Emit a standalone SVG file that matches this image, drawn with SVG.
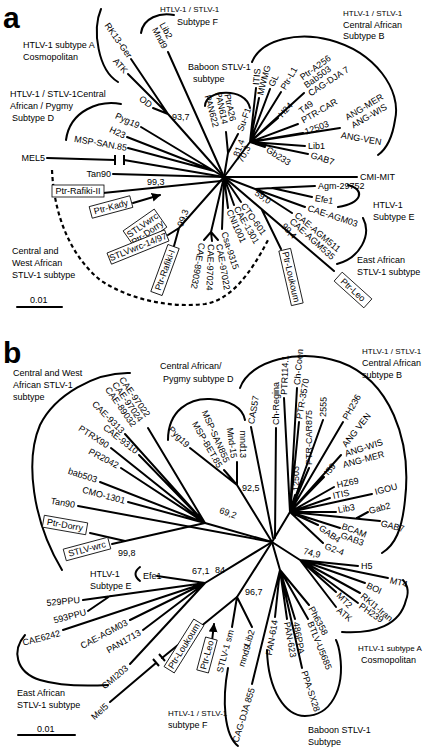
<svg xmlns="http://www.w3.org/2000/svg" width="431" height="749" viewBox="0 0 431 749">
<style>
.l{font-family:"Liberation Sans",Arial,sans-serif;font-size:9px;fill:#000;dominant-baseline:central}
.e{text-anchor:end}
.m{text-anchor:middle}
.g{font-family:"Liberation Sans",Arial,sans-serif;font-size:9px;fill:#000}
.s{font-size:8px}
.p{font-family:"Liberation Sans",Arial,sans-serif;font-size:30px;font-weight:bold;fill:#000}
.br{stroke:#000;stroke-width:2;fill:none;stroke-linecap:round}
.arc{stroke:#000;stroke-width:2;fill:none;stroke-linecap:round}
.dash{stroke:#000;stroke-width:2.2;fill:none;stroke-dasharray:4 3}
.box{fill:#fff;stroke:#000;stroke-width:0.8}
.tk{stroke:#000;stroke-width:2;fill:none}
</style>
<defs>
<marker id="ah" viewBox="0 0 10 10" refX="9" refY="5" markerWidth="9" markerHeight="9" markerUnits="userSpaceOnUse" orient="auto"><path d="M0,0 L10,5 L0,10 z" fill="#000"/></marker>
</defs>
<rect width="431" height="749" fill="#fff"/>

<!-- ========== PANEL A ========== -->
<text class="p" x="3" y="28">a</text>
<g id="connectors-a">
<path class="br" d="M224,177 L168,114 M168,114 L131,59 M168,114 L128,74 M168,114 L153,108"/>
<path class="br" d="M168,52 L224,177"/>
<path class="br" d="M214,171 L224,177 M141,127 L214,171 M127,137 L214,171 M128,148 L214,171"/>
<path class="br" d="M47,158 L115,160 M124,160 L224,177"/>
<path class="tk" d="M115,155 L115,165 M124,155 L124,165"/>
<path class="br" d="M113,174 L224,177"/>
<path class="br" d="M103,193 L221,181"/>
<path class="br" d="M133,203 L160,195" marker-end="url(#ah)"/>
<path class="br" d="M224,177 L179,228 L168,235 M179,228 L174,246"/>
<path class="br" d="M224,177 L211,232 L204,240 M211,232 L212,241 M211,232 L218,240"/>
<path class="br" d="M224,177 L222,229 M224,177 L228,208 M224,177 L234,205 M224,177 L241,202"/>
<path class="br" d="M224,177 L255,189 L272,188 L315,186 M272,188 L312,197 M255,189 L305,207 M255,189 L292,213"/>
<path class="br" d="M224,177 L334,271 M262,210 L281,249"/>
<path class="br" d="M224,177 L228,153 L226,132 M228,153 L238,134"/>
<path class="br" d="M224,177 L250,142 M250,142 L256,88 M250,142 L259,98 M250,142 L270,89 M250,142 L281,92 M250,142 L304,93 M250,142 L278,118 M250,142 L298,124 M250,142 L303,133 M250,142 L340,128 M250,142 L305,146 M250,142 L308,154 M250,142 L265,147"/>
<path class="br" d="M224,177 L357,177"/>
<path class="arc" d="M101,9 C92,30 98,70 118,82"/>
<path class="arc" d="M141,33 C143,18 160,12 174,15"/>
<path class="arc" d="M66,140 C70,110 100,100 121,104"/>
<path class="arc" d="M205,106 C205,90 245,86 250,108"/>
<path class="arc" d="M252,62 C262,38 300,32 330,40 C375,52 402,90 395,120 C392,140 385,150 378,155"/>
<path class="arc" d="M348,185 C366,190 362,203 338,207"/>
<path class="arc" d="M363,218 C372,235 360,258 337,264"/>
<path class="dash" d="M52,170 C54,215 70,255 100,280 C130,300 170,308 205,304 C230,300 250,275 268,240"/>
<path class="br" d="M17,307 L62,307"/>
</g>

<g id="a-groups">
<text class="g" x="23" y="48">HTLV-1 subtype A</text>
<text class="g" x="23" y="60">Cosmopolitan</text>
<text class="g" x="10" y="97">HTLV-1 / STLV-1Central</text>
<text class="g" x="10" y="109">African / Pygmy</text>
<text class="g" x="12" y="121">Subtype D</text>
<text class="g s" x="160" y="12">HTLV-1 / STLV-1</text>
<text class="g" x="177" y="25">Subtype F</text>
<text class="g" x="188" y="70">Baboon STLV-1</text>
<text class="g" x="193" y="82">subtype</text>
<text class="g s" x="343" y="16">HTLV-1 / STLV-1</text>
<text class="g" x="343" y="28">Central African</text>
<text class="g" x="343" y="39">Subtype B</text>
<text class="g" x="373" y="208">HTLV-1</text>
<text class="g" x="373" y="220">Subtype E</text>
<text class="g" x="357" y="263">East African</text>
<text class="g" x="357" y="275">STLV-1 subtype</text>
<text class="g" x="12" y="254">Central and</text>
<text class="g" x="12" y="266">West African</text>
<text class="g" x="12" y="278">STLV-1 subtype</text>
<text class="g" x="30" y="303">0.01</text>
</g>

<g id="a-cladeA">
<text class="l e" transform="translate(130,57) rotate(55)">RK13-Ger</text>
<text class="l e" transform="translate(126,72) rotate(48)">ATK</text>
<text class="l e" transform="translate(151,106) rotate(38)">OD</text>
<text class="g" x="172" y="120">93,7</text>
</g>
<g id="a-cladeF">
<text class="l e" transform="translate(170,38) rotate(62)">Lib2</text>
<text class="l e" transform="translate(165,48) rotate(62)">Mnd9</text>
</g>
<g id="a-cladeD">
<text class="l e" transform="translate(139,126) rotate(25)">Pyg19</text>
<text class="l e" transform="translate(125,136) rotate(25)">H23</text>
<text class="l e" transform="translate(127,148) rotate(10)">MSP-SAN.85</text>
<text class="l e" transform="translate(45,158)">MEL5</text>
</g>
<g id="a-west">
<text class="l e" transform="translate(111,174)">Tan90</text>
<text class="g" x="147" y="185">99,3</text>
<g transform="translate(78,191)"><rect class="box" x="-26" y="-6" width="52" height="12"/><text class="l m">Ptr-Rafiki-II</text></g>
<g transform="translate(111,207) rotate(-15)"><rect class="box" x="-21" y="-6" width="42" height="12"/><text class="l m">Ptr-Kady</text></g>
<g transform="translate(145,229) rotate(-35)"><rect class="box" x="-19" y="-11" width="38" height="22"/><text class="l m" y="-4.5">STLVwrc</text><text class="l m" y="4.5">Ptr-Dorry</text></g>
<g transform="translate(138,247) rotate(-22)"><rect class="box" x="-31" y="-6" width="62" height="12"/><text class="l m">STLVwrc-14/97</text></g>
<g transform="translate(165,270) rotate(-70)"><rect class="box" x="-25" y="-6" width="50" height="12"/><text class="l m">Ptr-Rafiki-I</text></g>
<text class="l m" transform="translate(183,218) rotate(-70)">99,3</text>
<text class="l" transform="translate(202,243) rotate(100)">CAE-89032</text>
<text class="l" transform="translate(211,244) rotate(92)">CAE-97024</text>
<text class="l" transform="translate(219,244) rotate(80)">CAE-97022</text>
<text class="l" transform="translate(224,232) rotate(72)">Csa-9315</text>
<text class="l" transform="translate(229,210) rotate(66)">CNI1001</text>
<text class="l" transform="translate(236,207) rotate(60)">CAE-1301</text>
<text class="l" transform="translate(243,204) rotate(55)">CTO-601</text>
</g>
<g id="a-cladeE">
<text class="l m" transform="translate(263,197) rotate(35)">59,0</text>
<text class="l" transform="translate(318,186)">Agm-29752</text>
<text class="l" transform="translate(315,198) rotate(10)">Efe1</text>
<text class="l" transform="translate(308,208) rotate(18)">CAE-AGM03</text>
<text class="l" transform="translate(296,214) rotate(40)">CAE-AGM511</text>
<text class="l" transform="translate(291,220) rotate(42)">CAE-AGM535</text>
<text class="l m" transform="translate(289,231) rotate(48)">99,4</text>
<g transform="translate(291,277) rotate(77)"><rect class="box" x="-28" y="-6" width="56" height="12"/><text class="l m">Ptr-Loukoum</text></g>
<g transform="translate(353,290) rotate(42)"><rect class="box" x="-20" y="-6" width="40" height="12"/><text class="l m">Ptr-Leo</text></g>
</g>
<g id="a-baboon">
<text class="l e" transform="translate(233,121) rotate(78)">PtrA26</text>
<text class="l e" transform="translate(225,124) rotate(78)">PAN614</text>
<text class="l e" transform="translate(216,127) rotate(75)">PAN622</text>
<text class="l" transform="translate(240,131) rotate(-70)">Su-F1</text>
<text class="l m" transform="translate(239,148) rotate(-70)">81,4</text>
</g>
<g id="a-cladeB">
<text class="l m" transform="translate(244,154) rotate(-62)">70,3</text>
<text class="l" transform="translate(256,85) rotate(-85)">ITIS</text>
<text class="l" transform="translate(260,95) rotate(-75)">MWMG</text>
<text class="l" transform="translate(271,86) rotate(-65)">GL</text>
<text class="l" transform="translate(283,89) rotate(-60)">Ptr-L1</text>
<text class="l" transform="translate(301,78) rotate(-36)">Ptr-A256</text>
<text class="l" transform="translate(305,86) rotate(-36)">Bab503</text>
<text class="l" transform="translate(309,94) rotate(-33)">CAG-DJA 7</text>
<text class="l" transform="translate(280,116) rotate(-48)">H24</text>
<text class="l" transform="translate(300,112) rotate(-38)">T49</text>
<text class="l" transform="translate(302,121) rotate(-30)">PTR-CAR</text>
<text class="l" transform="translate(305,132) rotate(-20)">12503</text>
<text class="l" transform="translate(346,118) rotate(-31)">ANG-MER</text>
<text class="l" transform="translate(352,126) rotate(-30)">ANG-WIS</text>
<text class="l" transform="translate(341,135) rotate(10)">ANG-VEN</text>
<text class="l" transform="translate(308,146)">Lib1</text>
<text class="l" transform="translate(311,155) rotate(18)">GAB7</text>
<text class="l" transform="translate(267,149) rotate(32)">Gb233</text>
</g>
<g id="a-cmi">
<text class="l" transform="translate(360,177)">CMI-MIT</text>
</g>

<!-- ========== PANEL B ========== -->
<text class="p" x="3" y="363">b</text>
<g id="connectors-b">
<path class="br" d="M205,523 L272,542"/>
<path class="br" d="M148,428 L205,523 M125,434 L205,523 M139,455 L205,523 M111,448 L205,523 M121,468 L205,523 M100,482 L205,523 M128,502 L205,523"/>
<path class="br" d="M78,506 L272,542"/>
<path class="br" d="M112,544 L205,523 M90,533 L125,541"/>
<path class="br" d="M237,485 L272,542 M190,448 L237,485 M224,470 L237,485 M237,462 L237,485"/>
<path class="br" d="M251,427 L273,538"/>
<path class="br" d="M290,512 L272,542 M276,428 L275,538"/>
<path class="br" d="M284,398 L290,512 M297,388 L290,512 M299,422 L290,512 M323,420 L290,512 M309,468 L290,512 M295,495 L290,512 M343,422 L290,512 M341,455 L290,512 M324,477 L290,512 M334,487 L290,512 M330,498 L290,512 M372,494 L290,512 M336,512 L290,512 M380,521 L290,512 M357,518 L368,512 M340,528 L290,512 M318,525 L290,512 M323,543 L290,512"/>
<path class="br" d="M300,560 L272,542 M300,560 L358,566 M300,560 L388,578 M300,560 L365,583 M300,560 L360,593 M300,560 L358,603 M300,560 L336,592 M300,560 L336,607"/>
<path class="br" d="M280,570 L272,542 M280,570 L275,617 M280,570 L287,619 M280,570 L295,619 M280,570 L308,619 M280,570 L309,605 M280,570 L302,668 M252,684 L280,570"/>
<path class="br" d="M237,597 L272,542 M232,627 L237,597 M252,627 L237,597"/>
<path class="br" d="M110,702 L156,663 M162,658 L237,597"/>
<path class="tk" d="M153,659 L159,666 M159,654 L165,661"/>
<path class="br" d="M205,583 L272,542 M157,576 L205,583 M83,600 L205,583 M88,611 L110,596 M63,630 L205,583 M130,620 L205,583 M143,630 L205,583 M130,664 L205,583"/>
<path class="br" d="M212,641 L214,624" marker-end="url(#ah)"/>
<path class="arc" d="M130,373 C95,372 55,395 40,425 C25,460 32,520 62,570"/>
<path class="arc" d="M168,440 C168,410 190,398 210,399 C230,400 243,408 245,420"/>
<path class="arc" d="M240,388 C250,360 300,348 340,362 C390,380 412,440 405,500 C402,530 395,545 382,553"/>
<path class="arc" d="M342,632 C375,634 400,625 406,600 C410,590 406,583 403,580"/>
<path class="arc" d="M267,650 C268,690 285,716 305,716 C330,716 345,690 340,655 C339,648 338,644 336,640"/>
<path class="arc" d="M228,668 C222,700 224,735 238,746"/>
<path class="arc" d="M25,635 C12,650 15,672 40,680 C60,686 90,686 108,685"/>
<path class="arc" d="M140,567 Q131,574 140,581"/>
<path class="br" d="M18,735 L75,735"/>
</g>

<g id="b-groups">
<text class="g" x="13" y="376">Central and West</text>
<text class="g" x="13" y="388">African STLV-1</text>
<text class="g" x="13" y="400">subtype</text>
<text class="g" x="160" y="369">Central African/</text>
<text class="g" x="163" y="382">Pygmy subtype D</text>
<text class="g s" x="362" y="354">HTLV-1 / STLV-1</text>
<text class="g" x="362" y="366">Central African</text>
<text class="g" x="362" y="378">subtype B</text>
<text class="g" x="90" y="577">HTLV-1</text>
<text class="g" x="90" y="589">Subtype E</text>
<text class="g" x="17" y="696">East African</text>
<text class="g" x="17" y="708">STLV-1 subtype</text>
<text class="g s" x="168" y="716">HTLV-1 / STLV-1</text>
<text class="g" x="168" y="728">subtype F</text>
<text class="g" x="308" y="733">Baboon STLV-1</text>
<text class="g" x="308" y="745">Subtype</text>
<text class="g s" x="358" y="651">HTLV-1 subtype A</text>
<text class="g" x="361" y="663">Cosmopolitan</text>
<text class="g" x="37" y="732">0.01</text>
</g>

<g id="b-west">
<text class="l e" transform="translate(148,416) rotate(55)">CAE-97022</text>
<text class="l e" transform="translate(141,421) rotate(55)">CAE-97024</text>
<text class="l e" transform="translate(134,426) rotate(55)">CAE-89032</text>
<text class="l e" transform="translate(123,432) rotate(45)">CAE-9313</text>
<text class="l e" transform="translate(137,452) rotate(38)">CAE-9310</text>
<text class="l e" transform="translate(108,446) rotate(33)">PTRX90</text>
<text class="l e" transform="translate(118,466) rotate(28)">PR2042</text>
<text class="l e" transform="translate(97,480) rotate(18)">bab503</text>
<text class="l e" transform="translate(125,501) rotate(15)">CMO-1301</text>
<text class="l e" transform="translate(75,505) rotate(10)">Tan90</text>
<g transform="translate(65,525) rotate(10)"><rect class="box" x="-22" y="-6" width="44" height="12"/><text class="l m">Ptr-Dorry</text></g>
<g transform="translate(87,549) rotate(-15)"><rect class="box" x="-23" y="-6" width="46" height="12"/><text class="l m">STLV-wrc</text></g>
<text class="g" x="118" y="556">99,8</text>
<text class="l m" transform="translate(228,513) rotate(20)">69,2</text>
</g>
<g id="b-cladeD">
<text class="l e" transform="translate(188,446) rotate(45)">Pyg19</text>
<text class="l e" transform="translate(220,467) rotate(60)">MSP-BET.85</text>
<text class="l e" transform="translate(227,462) rotate(66)">MSP-SAN855</text>
<text class="l e" transform="translate(234,458) rotate(82)">Mnd-15</text>
<text class="l e" transform="translate(243,458) rotate(90)">mnd13</text>
<text class="g" x="242" y="491">92,5</text>
<text class="l" transform="translate(251,424) rotate(-80)">CAS57</text>
</g>
<g id="b-cladeB">
<text class="l" transform="translate(276,425) rotate(-90)">Ch-Regina</text>
<text class="l" transform="translate(284,395) rotate(-88)">PTR114.1</text>
<text class="l" transform="translate(297,385) rotate(-85)">Ch-Coen</text>
<text class="l" transform="translate(299,419) rotate(-80)">PTR-3570</text>
<text class="l" transform="translate(323,417) rotate(-88)">2555</text>
<text class="l" transform="translate(309,465) rotate(-90)">PTR-CAR875</text>
<text class="l" transform="translate(296,491) rotate(-90)">12503</text>
<text class="l" transform="translate(345,419) rotate(-60)">PH236</text>
<text class="l" transform="translate(344,446) rotate(-52)">ANG VEN</text>
<text class="l" transform="translate(345,454) rotate(-18)">ANG-WIS</text>
<text class="l" transform="translate(343,465) rotate(-15)">ANG-MER</text>
<text class="l" transform="translate(326,474) rotate(-50)">I59</text>
<text class="l" transform="translate(337,485) rotate(-12)">HZ69</text>
<text class="l" transform="translate(333,496) rotate(-12)">ITIS</text>
<text class="l" transform="translate(375,492) rotate(-15)">IGOU</text>
<text class="l" transform="translate(338,510) rotate(-10)">Lib3</text>
<text class="l" transform="translate(369,511) rotate(-15)">Gab2</text>
<text class="l" transform="translate(381,523) rotate(15)">GAB7</text>
<text class="l" transform="translate(342,526) rotate(20)">BCAM</text>
<text class="l" transform="translate(341,535) rotate(20)">GAB3</text>
<text class="l" transform="translate(320,527) rotate(35)">GAB4</text>
<text class="l" transform="translate(325,546) rotate(20)">G2-4</text>
<text class="l m" transform="translate(312,553) rotate(15)">74,9</text>
</g>
<g id="b-cladeA">
<text class="l" transform="translate(361,566)">H5</text>
<text class="l" transform="translate(390,580) rotate(15)">MT4</text>
<text class="l" transform="translate(367,585) rotate(25)">BOI</text>
<text class="l" transform="translate(362,595) rotate(40)">RKI1-Iran</text>
<text class="l" transform="translate(360,605) rotate(35)">PH239</text>
<text class="l" transform="translate(338,594) rotate(45)">MT2</text>
<text class="l" transform="translate(338,609) rotate(40)">ATK</text>
</g>
<g id="b-baboon">
<text class="l e" transform="translate(275,620) rotate(-80)">PAN-614</text>
<text class="l" transform="translate(287,622) rotate(80)">PAN-623</text>
<text class="l" transform="translate(296,622) rotate(80)">486PPA</text>
<text class="l" transform="translate(310,622) rotate(68)">BTLV-U5685</text>
<text class="l" transform="translate(311,607) rotate(62)">Ph6358</text>
<text class="l" transform="translate(304,671) rotate(72)">PPA-SX28</text>
</g>
<g id="b-cladeF">
<text class="l e" transform="translate(231,630) rotate(-75)">STLV-1 sm</text>
<text class="l e" transform="translate(252,630) rotate(-72)">Lib2</text>
<text class="l e" transform="translate(248,645) rotate(-72)">mnd9</text>
<text class="l e" transform="translate(252,688) rotate(-73)">CAG-DJA 855</text>
<text class="g" x="245" y="595">96,7</text>
<text class="l e" transform="translate(107,705) rotate(-42)">Mel5</text>
<g transform="translate(184,646) rotate(-58)"><rect class="box" x="-28" y="-6" width="56" height="12"/><text class="l m">Ptr-Loukoum</text></g>
<g transform="translate(207,655) rotate(-75)"><rect class="box" x="-17" y="-6" width="34" height="12"/><text class="l m">Ptr-Leo</text></g>
</g>
<g id="b-cladeE">
<text class="l" transform="translate(143,576)">Efe1</text>
<text class="g" x="192" y="574">67,1</text>
<text class="g" x="215" y="573">84</text>
<text class="l e" transform="translate(80,600) rotate(-5)">529PPU</text>
<text class="l e" transform="translate(86,612) rotate(-15)">593PPU</text>
<text class="l e" transform="translate(60,633) rotate(-15)">CAE6242</text>
<text class="l e" transform="translate(127,622) rotate(-28)">CAE-AGM03</text>
<text class="l e" transform="translate(140,632) rotate(-30)">PAN1713</text>
<text class="l e" transform="translate(127,667) rotate(-40)">CMI203</text>
</g>
</svg>
